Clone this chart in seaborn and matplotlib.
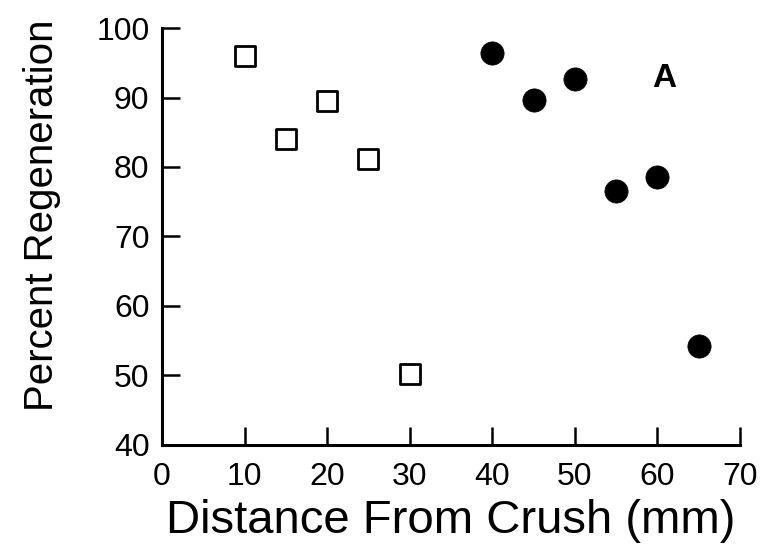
import numpy as np
import pandas as pd
import seaborn as sns
import matplotlib.pyplot as plt

# open squares (near the crush) and filled circles (farther away)
near_dist = [10, 15, 20, 25, 30]
near_regen = [96.0, 84.0, 89.5, 81.2, 50.2]
far_dist = [40, 45, 50, 55, 60, 65]
far_regen = [96.4, 89.6, 92.6, 76.6, 78.5, 54.2]

x_ticks = [0, 10, 20, 30, 40, 50, 60, 70]
y_ticks = [40, 50, 60, 70, 80, 90, 100]

sns.set_style("ticks")
plt.rcParams['font.family'] = ['Liberation Sans', 'DejaVu Sans']
plt.rcParams.update({'text.color': 'black', 'axes.labelcolor': 'black',
                     'xtick.color': 'black', 'ytick.color': 'black',
                     'xtick.direction': 'in', 'ytick.direction': 'in'})

near = pd.DataFrame({'dist': near_dist, 'regen': near_regen})
far = pd.DataFrame({'dist': far_dist, 'regen': far_regen})

fig = plt.figure(figsize=(7.67, 5.47), dpi=100)
ax = fig.add_axes([0.2112, 0.1865, 0.7536, 0.7623])

sns.scatterplot(data=near, x='dist', y='regen', marker='s', s=190,
                facecolor='white', edgecolor='black', linewidth=2.0, ax=ax, zorder=3)
sns.scatterplot(data=far, x='dist', y='regen', marker='o', s=280,
                color='black', edgecolor='black', linewidth=0.5, ax=ax, zorder=3)

ax.text(60.8, 92.8, 'A', fontsize=24, fontweight='bold', ha='center', va='center')

ax.set_xlim(0, 70)
ax.set_ylim(40, 100)
ax.set_xticks(x_ticks)
ax.set_yticks(y_ticks)
ax.tick_params(direction='in', length=13, width=1.8, labelsize=23, pad=9)
ax.tick_params(axis='x', pad=12)
sns.despine(ax=ax)
for side in ['left', 'bottom']:
    ax.spines[side].set_linewidth(2.2)
    ax.spines[side].set_color('black')

ax.set_xlabel('Distance From Crush (mm)', fontsize=34, labelpad=5)
ax.set_ylabel('Percent Regeneration', fontsize=29)
ax.yaxis.set_label_coords(-0.175, 0.55)

fig.savefig('out.png', dpi=100)
